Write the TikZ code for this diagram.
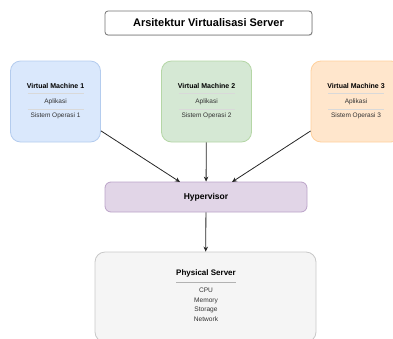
\documentclass[tikz,border=0pt]{standalone}
\usepackage{fontspec}
\setmainfont{Liberation Sans}
\usetikzlibrary{arrows.meta,shadows}
\definecolor{bluef}{HTML}{DAE8FC}\definecolor{blued}{HTML}{B4CCEE}
\definecolor{greenf}{HTML}{D5E8D4}\definecolor{greend}{HTML}{B5D6A6}
\definecolor{orangef}{HTML}{FFE6CC}\definecolor{oranged}{HTML}{FFD09C}
\definecolor{purplef}{HTML}{E1D5E7}\definecolor{purpled}{HTML}{BBA3C8}
\definecolor{grayf}{HTML}{F5F5F5}\definecolor{grayd}{HTML}{C8C8C8}
\definecolor{sep}{HTML}{C9CDD3}
\tikzset{
  box/.style={draw, rounded corners=10pt, line width=0.8pt, inner sep=0pt},
  vmbox/.style={box, minimum width=90pt, minimum height=81pt},
  vmtitle/.style={font=\fontsize{7}{8}\selectfont\bfseries, inner sep=0pt},
  vmtext/.style={font=\fontsize{6.5}{8}\selectfont, inner sep=0pt, text=black!80},
  sepline/.style={draw=white!70!gray, line width=0.6pt},
  arr/.style={draw=black!85, line width=0.8pt, -{Stealth[length=5pt,width=4.5pt]}},
  pstext/.style={font=\fontsize{6.6}{9.5}\selectfont, inner sep=0pt, text=black!80, align=center}
}
\begin{document}
\begin{tikzpicture}[x=1pt,y=-1pt]
\useasboundingbox (0,0) rectangle (393,338);
\clip (0,0) rectangle (393,338);

% title
\node[draw=black!55, fill=white, rounded corners=3pt, line width=0.8pt,
      minimum width=207pt, minimum height=24pt, inner sep=0pt,
      drop shadow={shadow xshift=0.6pt, shadow yshift=-0.9pt, opacity=0.25},
      font=\fontsize{11}{12}\selectfont\bfseries] (title) at (208.5,23) {Arsitektur Virtualisasi Server};

% virtual machines
\node[vmbox, fill=bluef, draw=blued] (vm1) at (55.5,101.5) {};
\node[vmbox, fill=greenf, draw=greend] (vm2) at (206.5,101.5) {};
\node[vmbox, fill=orangef, draw=oranged] (vm3) at (356,101.5) {};

\foreach \n/\cx in {1/55.5, 2/206.5, 3/356}{
  \node[vmtitle] (vm\n t) at (\cx,86) {Virtual Machine \n};
  \draw[sepline] (\cx-28,93.5) -- (\cx+28,93.5);
  \node[vmtext] (vm\n a) at (\cx,102) {Aplikasi};
  \draw[sepline] (\cx-28,109.5) -- (\cx+28,109.5);
  \node[vmtext] (vm\n s) at (\cx,116) {Sistem Operasi \n};
}

% hypervisor
\node[box, rounded corners=6pt, fill=purplef, draw=purpled, minimum width=202pt, minimum height=30pt,
      font=\fontsize{8.5}{10}\selectfont\bfseries] (hyp) at (206,197) {Hypervisor};

% physical server
\node[box, fill=grayf, draw=grayd, minimum width=221pt, minimum height=90pt] (phys) at (205.5,297) {};
\node[font=\fontsize{8}{9}\selectfont\bfseries, inner sep=0pt] (pst) at (206,273) {Physical Server};
\draw[draw=black!30, line width=0.7pt] (176,282) -- (236,282);
\node[pstext, anchor=north] (psl) at (206,288) {CPU\\Memory\\Storage\\Network};

% connectors
\coordinate (h1) at (180,182);
\coordinate (h3) at (232,182);
\draw[arr] (vm1) -- (h1);
\draw[arr] (vm2) -- (hyp);
\draw[arr] (vm3) -- (h3);
\draw[arr] (hyp) -- (phys);
\end{tikzpicture}
\end{document}
